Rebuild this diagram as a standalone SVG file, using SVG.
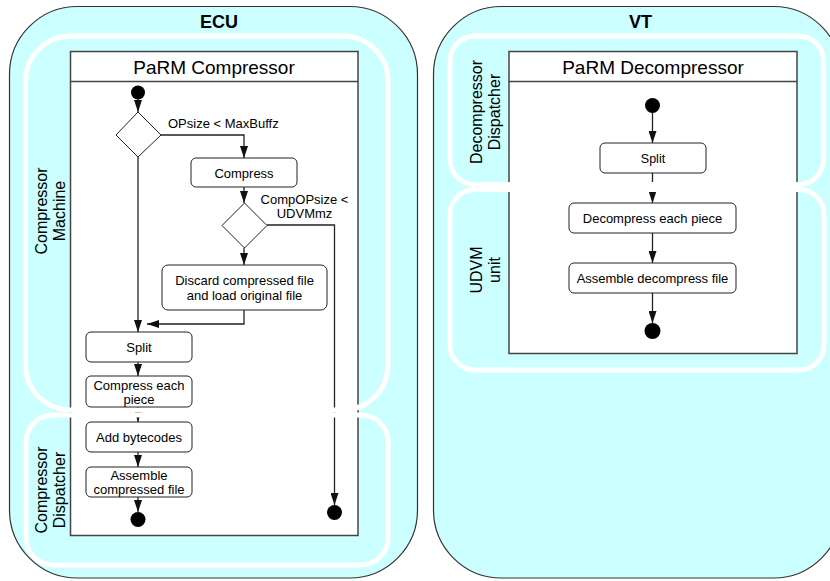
<svg xmlns="http://www.w3.org/2000/svg" width="830" height="581" viewBox="0 0 830 581">
<defs>
<style>
.outer{fill:#ccffff;stroke:#333;stroke-width:1.2}
.lane{fill:none;stroke:#fff;stroke-width:5}
.box{fill:#fff;stroke:#444;stroke-width:1.5}
.node{fill:#fff;stroke:#222;stroke-width:1}
.dia{fill:#fff;stroke:#222;stroke-width:1}
.dot{fill:#000}
.conn{fill:none;stroke:#222;stroke-width:1.3}
text{font-family:"Liberation Sans",Arial,sans-serif;fill:#000}
.t13{font-size:13px;text-anchor:middle}
.g13{font-size:13px}
.lbl{font-size:16px;text-anchor:middle}
.ttl{font-size:19px;text-anchor:middle}
.big{font-size:18px;font-weight:bold;text-anchor:middle}
</style>
<marker id="ah" markerUnits="userSpaceOnUse" markerWidth="12" markerHeight="8" refX="12" refY="4" orient="auto"><path d="M0,0 L12,4 L0,8 z" fill="#111"/></marker>
</defs>

<g id="ecu">
<rect class="outer" x="9.5" y="6.5" width="408" height="571.5" rx="68"/>
<text class="big" x="219" y="28">ECU</text>
</g>
<g id="vt">
<rect class="outer" x="433.5" y="6.5" width="408" height="571.5" rx="68"/>
<text class="big" x="640.5" y="28">VT</text>
</g>

<g id="parm-compressor">
<rect class="box" x="70.5" y="51.5" width="287.5" height="484"/>
<line x1="70.5" y1="81.5" x2="358" y2="81.5" stroke="#444" stroke-width="1.5"/>
<text class="ttl" x="214" y="74">PaRM Compressor</text>
</g>
<g id="parm-decompressor">
<rect class="box" x="509" y="51.5" width="288" height="302"/>
<line x1="509" y1="81.5" x2="797" y2="81.5" stroke="#444" stroke-width="1.5"/>
<text class="ttl" x="653" y="74">PaRM Decompressor</text>
</g>

<g id="connectors">
<path class="conn" d="M138,98 V112" marker-end="url(#ah)"/>
<path class="conn" d="M161,135 H244 V158" marker-end="url(#ah)"/>
<path class="conn" d="M244,187 V203" marker-end="url(#ah)"/>
<path class="conn" d="M244,248 V265" marker-end="url(#ah)"/>
<path class="conn" d="M267,225 H334.5 V505" marker-end="url(#ah)"/>
<path class="conn" d="M244,310 V324 H147" marker-end="url(#ah)"/>
<path class="conn" d="M138,157 V332" marker-end="url(#ah)"/>
<path class="conn" d="M138,362 V376" marker-end="url(#ah)"/>
<path class="conn" d="M138,407 V422" marker-end="url(#ah)"/>
<path class="conn" d="M138,452 V467" marker-end="url(#ah)"/>
<path class="conn" d="M138,497 V512" marker-end="url(#ah)"/>
<text class="g13" x="168" y="128">OPsize &lt; MaxBuffz</text>
<text class="t13" x="304.5" y="203.5">CompOPsize &lt;</text>
<text class="t13" x="304.5" y="217.5">UDVMmz</text>
<path class="conn" d="M652.5,112 V143" marker-end="url(#ah)"/>
<path class="conn" d="M652.5,173 V203" marker-end="url(#ah)"/>
<path class="conn" d="M652.5,233 V263" marker-end="url(#ah)"/>
<path class="conn" d="M652.5,293 V323" marker-end="url(#ah)"/>
</g>

<g id="lane-compressor-machine">
<rect class="lane" x="25.5" y="36" width="362.5" height="374" rx="45"/>
<text class="lbl" transform="translate(0,211) rotate(-90)" x="0" y="47">Compressor</text>
<text class="lbl" transform="translate(0,211) rotate(-90)" x="0" y="65">Machine</text>
</g>
<g id="lane-compressor-dispatcher">
<rect class="lane" x="26" y="415" width="362" height="150" rx="27"/>
<text class="lbl" transform="translate(0,490) rotate(-90)" x="0" y="47">Compressor</text>
<text class="lbl" transform="translate(0,490) rotate(-90)" x="0" y="65">Dispatcher</text>
</g>
<g id="lane-decompressor-dispatcher">
<rect class="lane" x="450" y="36" width="373.5" height="148.5" rx="25"/>
<text class="lbl" transform="translate(0,112) rotate(-90)" x="0" y="482">Decompressor</text>
<text class="lbl" transform="translate(0,112) rotate(-90)" x="0" y="500">Dispatcher</text>
</g>
<g id="lane-udvm-unit">
<rect class="lane" x="450" y="189.5" width="374" height="180.5" rx="25"/>
<text class="lbl" transform="translate(0,270) rotate(-90)" x="0" y="482">UDVM</text>
<text class="lbl" transform="translate(0,270) rotate(-90)" x="0" y="500">unit</text>
</g>

<g id="c-start"><circle class="dot" cx="138" cy="92.5" r="7"/></g>
<g id="c-decision1"><polygon class="dia" points="138,112 161,135 138,157 116,135"/></g>
<g id="c-compress"><rect class="node" x="191" y="158" width="106" height="29" rx="5"/><text class="t13" x="244" y="177.5">Compress</text></g>
<g id="c-decision2"><polygon class="dia" points="244.5,203 267,225.5 244.5,248 222,225.5"/></g>
<g id="c-discard"><rect class="node" x="162" y="265" width="165" height="45" rx="6"/><text class="t13" x="244.5" y="285">Discard compressed file</text><text class="t13" x="244.5" y="299.5">and load original file</text></g>
<g id="c-split"><rect class="node" x="86" y="332" width="106" height="30" rx="5"/><text class="t13" x="139" y="351.5">Split</text></g>
<g id="c-compress-each"><rect class="node" x="86" y="376" width="106" height="31" rx="5"/><text class="t13" x="139" y="389.5">Compress each</text><text class="t13" x="139" y="403.5">piece</text></g>
<g id="c-add-bytecodes"><rect class="node" x="86" y="422" width="106" height="30" rx="5"/><text class="t13" x="139" y="441.5">Add bytecodes</text></g>
<g id="c-assemble"><rect class="node" x="86" y="467" width="106" height="30" rx="5"/><text class="t13" x="139" y="479.8">Assemble</text><text class="t13" x="139" y="493.8">compressed file</text></g>
<g id="c-end1"><circle class="dot" cx="138" cy="519.5" r="7.5"/></g>
<g id="c-end2"><circle class="dot" cx="334.5" cy="512.5" r="7.5"/></g>

<g id="d-start"><circle class="dot" cx="652.5" cy="105.5" r="7.5"/></g>
<g id="d-split"><rect class="node" x="600" y="143" width="106" height="30" rx="5"/><text class="t13" x="653" y="162.5" style="font-size:12.5px">Split</text></g>
<g id="d-decompress"><rect class="node" x="569" y="203" width="167" height="30" rx="5"/><text class="t13" x="652.5" y="222.5">Decompress each piece</text></g>
<g id="d-assemble"><rect class="node" x="569" y="263" width="167" height="30" rx="5"/><text class="t13" x="652.5" y="282.5">Assemble decompress file</text></g>
<g id="d-end"><circle class="dot" cx="652.5" cy="331" r="8"/></g>
</svg>
